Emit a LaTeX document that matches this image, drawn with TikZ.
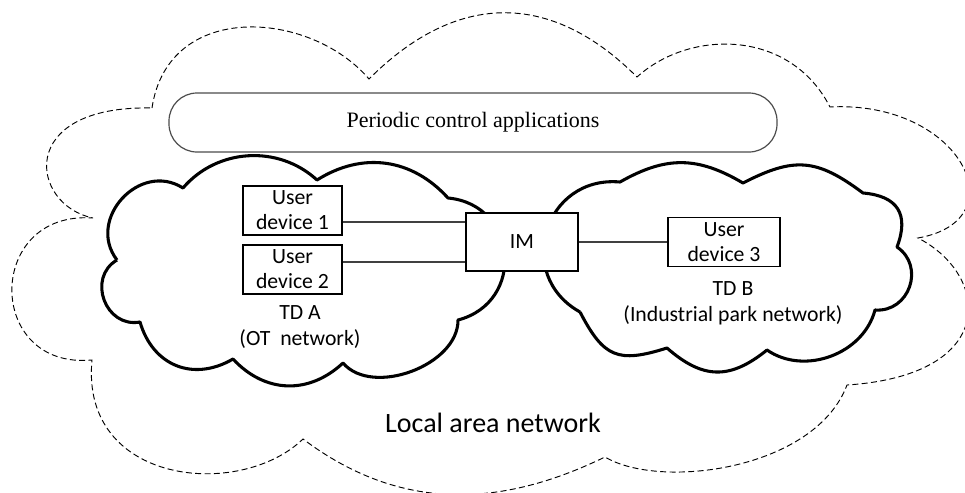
\documentclass[tikz,border=0pt]{standalone}
\usepackage{fontspec}
\setmainfont{Liberation Serif}
\newfontfamily\calfont{Carlito}
\usetikzlibrary{calc}
\begin{document}
\begin{tikzpicture}[x=0.75pt,y=-0.75pt,
  cloudline/.style={line width=2.3pt, line join=round},
  lanline/.style={line width=0.7pt, dash pattern=on 4.5pt off 2.5pt},
  devbox/.style={draw, line width=1pt, fill=white, inner sep=0pt, align=center,
    minimum width=74.25pt, minimum height=36.75pt,
    font=\calfont\fontsize{16.3}{18.75}\selectfont},
  lbl/.style={align=center, inner sep=0pt, font=\calfont\fontsize{16.3}{19.5}\selectfont},
  link/.style={draw=black!75, line width=1pt}
]
\useasboundingbox (0,0) rectangle (965,493);
% outer dashed cloud
\draw[lanline] (152,108)
 .. controls (168,0) and (310,10) .. (369,79)
 .. controls (457,-9) and (551,-9) .. (637,77)
 .. controls (690,29) and (790,29) .. (830,107)
 .. controls (960,100) and (1020,220) .. (918,238)
 .. controls (990,275) and (1000,375) .. (847,385)
 .. controls (815,470) and (660,490) .. (605,457)
 .. controls (500,508) and (400,512) .. (303,439)
 .. controls (240,500) and (80,485) .. (92,360)
 .. controls (-15,370) and (-15,210) .. (93,218)
 .. controls (30,205) and (15,105) .. (152,108);
% top application bar
\node[draw=black!70, line width=0.9pt, rounded corners=21pt, minimum width=456pt,
  minimum height=44.25pt, inner sep=0pt, font=\fontsize{16.5}{19}\selectfont]
  (pca) at (473,122.5) {Periodic control applications};
% left cloud TD A
\draw[cloudline] (117,260) to[bend left=80, looseness=1.34] (183,188)
 to[bend left=46, looseness=1.0] (317,180)
 to[bend left=40, looseness=1.04] (448,198)
 to[bend left=80, looseness=1.47] (458,320)
 to[bend left=70, looseness=0.94] (343,363)
 to[bend left=45, looseness=1.09] (233,359)
 to[bend left=52, looseness=1.17] (140,322)
 to[bend left=80, looseness=1.36] (117,260);
% right cloud TD B
\draw[cloudline] (580,312) to[bend left=78, looseness=1.43] (620,182)
 to[bend left=30, looseness=1.1] (743,183)
 to[bend left=32, looseness=1.23] (863,193)
 to[bend left=53, looseness=1.4] (897,247)
 to[bend left=75, looseness=1.32] (875,310)
 to[bend left=55, looseness=1.01] (767,350)
 to[bend left=40, looseness=1.22] (667,348)
 to[bend left=40, looseness=1.4] (580,312);
% devices
\node[devbox] (ud1) at (292.5,210.5) {User\\device 1};
\node[devbox] (ud2) at (292.5,269.5) {User\\device 2};
\node[devbox, minimum width=84pt, minimum height=43.5pt] (im) at (522,242) {IM};
\node[devbox, minimum width=84pt] (ud3) at (724,242) {User\\device 3};
% links
\draw[link] ([yshift=-8.6pt]ud1.east) -- ([yshift=-8.6pt]ud1.east -| im.west);
\draw[link] ([yshift=5.6pt]ud2.east) -- ([yshift=5.6pt]ud2.east -| im.west);
\draw[link] (im.east) -- (ud3.west);
% labels
\node[lbl] (tda) at (300,327.5) {TD A\\(OT\ \ network)};
\node[lbl] (tdb) at (733,303) {TD B\\(Industrial park network)};
\node[font=\calfont\fontsize{21}{25}\selectfont, inner sep=0pt] (lan) at (493,423) {Local area network};
\end{tikzpicture}
\end{document}
